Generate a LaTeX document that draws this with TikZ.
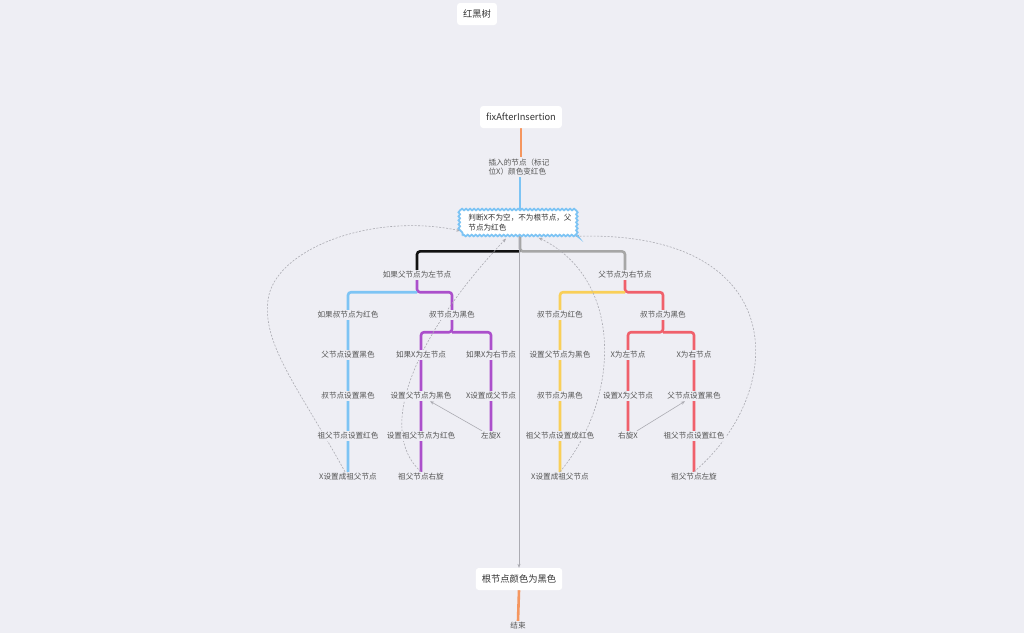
\documentclass[tikz,border=0pt]{standalone}
\usepackage{fontspec}
\setmainfont{Noto Sans CJK SC}
\usetikzlibrary{arrows.meta,decorations.pathmorphing}
\pgfdeclarelayer{bg}
\pgfdeclarelayer{lines}
\pgfsetlayers{bg,lines,main}
\definecolor{bgc}{HTML}{EEEEF4}
\definecolor{txt}{HTML}{555555}
\definecolor{dark}{HTML}{333333}
\definecolor{corange}{HTML}{F5965F}
\definecolor{cblue}{HTML}{7DC4F4}
\definecolor{cblack}{HTML}{111111}
\definecolor{cgray}{HTML}{A6A6A6}
\definecolor{cpurple}{HTML}{AB4FCB}
\definecolor{cyellow}{HTML}{F9CF58}
\definecolor{cred}{HTML}{F0606B}
\definecolor{cthin}{HTML}{ABABB2}
\tikzset{
  lbl/.style={fill=bgc, text=txt, font=\fontsize{7.6}{9.5}\selectfont, inner sep=1.5pt},
  topbox/.style={fill=white, rounded corners=3pt, text=dark, font=\fontsize{9.3}{11}\selectfont, minimum height=22pt, inner xsep=6pt},
  judge/.style={fill=white, draw=cblue, line width=1.8pt, text=dark, align=left,
    font=\fontsize{7.6}{10}\selectfont, inner xsep=6pt, inner ysep=4pt,
    decorate, decoration={snake, segment length=4pt, amplitude=0.8pt}},
  br/.style={line width=2.6pt, rounded corners=3pt},
  thinc/.style={draw=cthin, line width=0.6pt, -{Stealth[length=4pt,width=3.2pt]}},
  dsh/.style={dash pattern=on 2pt off 1.5pt}
}
\begin{document}
\begin{tikzpicture}[x=1pt,y=-1pt]
\begin{pgfonlayer}{bg}
\fill[bgc] (0,0) rectangle (1024,633);
\end{pgfonlayer}
\useasboundingbox (0,0) rectangle (1024,633);

\node[topbox] (title) at (477,14) {红黑树};
\node[topbox] (fix) at (521,117) {fixAfterInsertion};
\node[lbl, align=left] (ins) at (519,167) {插入的节点（标记\\位X）颜色变红色};
\node[judge] (j) at (520,223) {判断X不为空，不为根节点，父\\节点为红色};
\node[topbox] (root) at (519,579) {根节点颜色为黑色};
\node[lbl] (end) at (518,626) {结束};

\node[lbl] (pl) at (417,275) {如果父节点为左节点};
\node[lbl] (a1) at (348,315) {如果叔节点为红色};
\node[lbl] (a2) at (348,355) {父节点设置黑色};
\node[lbl] (a3) at (348,396) {叔节点设置黑色};
\node[lbl] (a4) at (348,436) {祖父节点设置红色};
\node[lbl] (a5) at (348,477) {X设置成祖父节点};
\node[lbl] (ub) at (452,315) {叔节点为黑色};
\node[lbl] (b1) at (421,355) {如果X为左节点};
\node[lbl] (b2) at (421,396) {设置父节点为黑色};
\node[lbl] (b3) at (421,436) {设置祖父节点为红色};
\node[lbl] (b4) at (421,477) {祖父节点右旋};
\node[lbl] (c1) at (491,355) {如果X为右节点};
\node[lbl] (c2) at (491,396) {X设置成父节点};
\node[lbl] (c3) at (491,436) {左旋X};

\node[lbl] (pr) at (625,275) {父节点为右节点};
\node[lbl] (d1) at (560,315) {叔节点为红色};
\node[lbl] (d2) at (560,355) {设置父节点为黑色};
\node[lbl] (d3) at (560,396) {叔节点为黑色};
\node[lbl] (d4) at (560,436) {祖父节点设置成红色};
\node[lbl] (d5) at (560,477) {X设置成祖父节点};
\node[lbl] (rb) at (663,315) {叔节点为黑色};
\node[lbl] (e1) at (628,355) {X为左节点};
\node[lbl] (e2) at (628,396) {设置X为父节点};
\node[lbl] (e3) at (628,436) {右旋X};
\node[lbl] (f1) at (694,355) {X为右节点};
\node[lbl] (f2) at (694,396) {父节点设置黑色};
\node[lbl] (f3) at (694,436) {祖父节点设置红色};
\node[lbl] (f4) at (694,477) {祖父节点左旋};

\begin{pgfonlayer}{lines}
\draw[br, corange] (fix.south) -- (fix.south |- ins.north);
\draw[br, cblue] (j.north |- ins.south) -- (j.north);
\draw[br, corange] (root.south) -- (end.north);

\draw[br, cgray] (j.south) -- ++(0,15) -| (pr.north);
\draw[br, cblack] (j.south) ++(0,15) -| (pl.north);
\draw[br, cpurple] (pl.south) -- ++(0,12) -| (ub.north);
\draw[br, cblue] (pl.south) ++(0,12) -| (a5.north);
\draw[br, cpurple] (ub.south) -- ++(0,12) -| (b4.north);
\draw[br, cpurple] (ub.south) ++(0,12) -| (c3.north);
\draw[br, cred] (pr.south) -- ++(0,12) -| (rb.north);
\draw[br, cyellow] (pr.south) ++(0,12) -| (d5.north);
\draw[br, cred] (rb.south) -- ++(0,12) -| (e3.north);
\draw[br, cred] (rb.south) ++(0,12) -| (f4.north);

\draw[thinc] (root.north |- j.south) -- (root.north);
\draw[thinc, dsh, shorten >=1pt] ([xshift=-3pt]a5.north) .. controls (300,390) and (262,345) .. (268,300)
   .. controls (274,250) and (370,212) .. ([yshift=-8pt]j.west);
\draw[thinc, dsh, shorten >=3pt] (b4.north) .. controls (375,430) and (415,335) .. ([xshift=-12pt]j.south);
\draw[thinc] (c3.150) -- (b2.-30);
\draw[thinc] (e3.30) -- (f2.-150);
\draw[thinc, dsh, shorten >=3pt] (d5.north) .. controls (620,400) and (625,280) .. ([xshift=16pt]j.south);
\draw[thinc, dsh, shorten >=3pt] (f4.north) .. controls (790,390) and (790,230) .. ([xshift=-6pt]j.south east);
\end{pgfonlayer}
\end{tikzpicture}
\end{document}
